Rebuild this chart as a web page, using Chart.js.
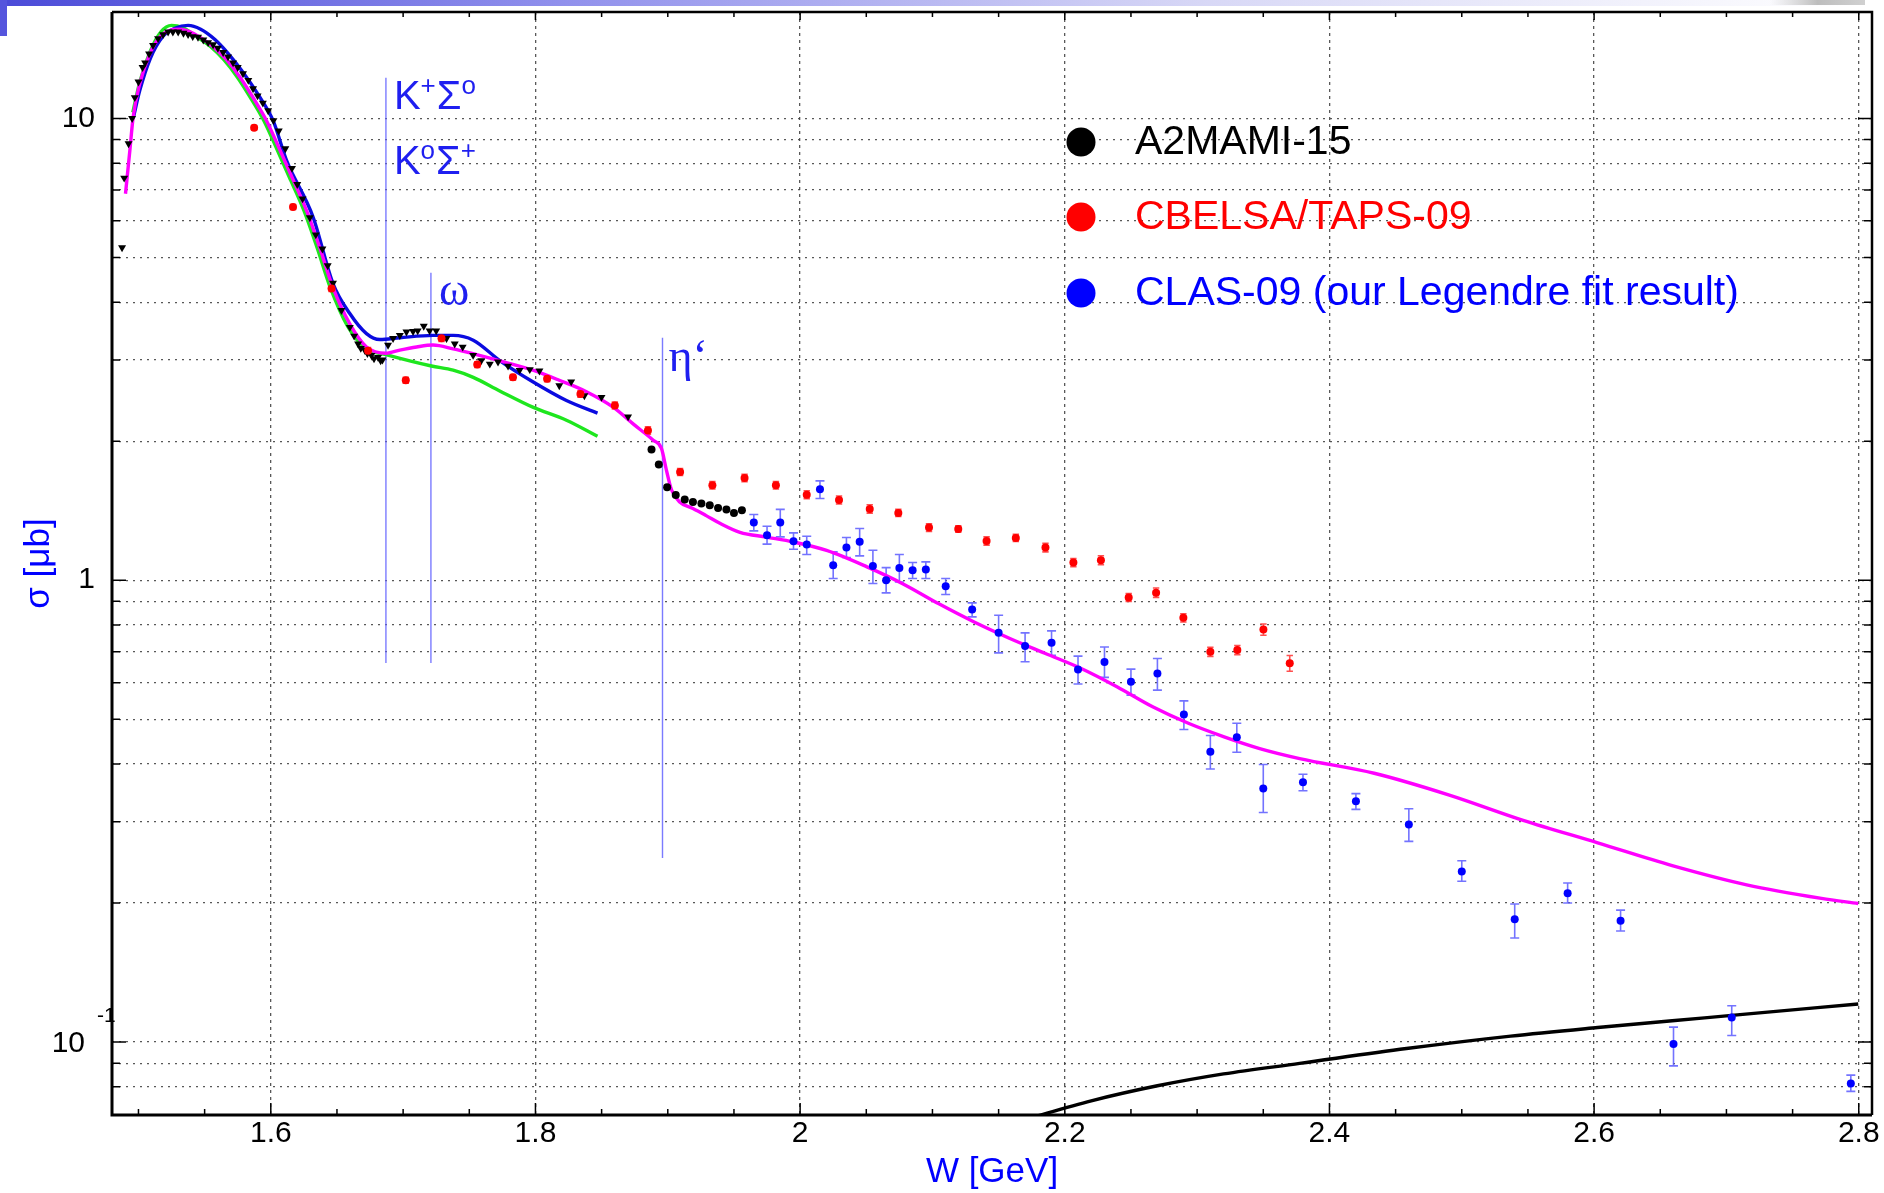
<!DOCTYPE html>
<html><head><meta charset="utf-8">
<script src="https://cdn.jsdelivr.net/npm/chart.js@4.4.0/dist/chart.umd.min.js"></script>
<style>html,body{margin:0;padding:0;background:#fff;overflow:hidden}</style>
</head><body>
<canvas id="c" width="1884" height="1193"></canvas>
<script>
// ---------------- data ----------------
const xTickValues = [1.6, 1.8, 2.0, 2.2, 2.4, 2.6, 2.8];
const yGridValues = [0.08,0.09,0.1,0.2,0.3,0.4,0.5,0.6,0.7,0.8,0.9,1,2,3,4,5,6,7,8,9,10];
const yLabelValues = [10, 1];

// black triangles (earlier A2 data)
const triW = [1.4876,1.4892,1.4925,1.4952,1.4972,1.5000,1.5031,1.5050,1.5080,1.5110,1.5148,1.5186,1.5224,1.5260,1.5300,1.5340,1.5375,1.5410,1.5450,1.5490,1.5526,1.5564,1.5600,1.5640,1.5677,1.5715,1.5750,1.5790,1.5830,1.5866,1.5900,1.5940,1.5980,1.6020,1.6060,1.6110,1.6160,1.6200,1.6240,1.6295,1.6340,1.6390,1.6430,1.6470,1.6534,1.6597,1.6630,1.6660,1.6680,1.6710,1.6730,1.6760,1.6780,1.6810,1.6830,1.6844,1.6886,1.6924,1.6975,1.7025,1.7075,1.7110,1.7156,1.7200,1.7250,1.7328,1.7390,1.7450,1.7529,1.7590,1.7655,1.7717,1.7793,1.7880,1.7957,1.8030,1.8180,1.8270,1.8370,1.8499,1.8700];
const triSigma = [5.25,7.43,8.82,10.0,11.1,12.0,12.9,13.2,13.8,14.4,14.9,15.2,15.4,15.4,15.4,15.3,15.2,15.05,15.0,14.8,14.6,14.45,14.2,13.9,13.6,13.2,12.9,12.5,12.1,11.6,11.2,10.8,10.4,9.9,9.4,8.6,7.8,7.2,6.7,6.1,5.6,5.22,4.8,4.4,3.84,3.53,3.38,3.25,3.18,3.15,3.10,3.07,3.02,3.04,2.99,3.00,3.23,3.34,3.39,3.45,3.46,3.47,3.55,3.47,3.47,3.34,3.25,3.20,3.07,2.99,2.94,2.97,2.91,2.85,2.86,2.84,2.64,2.69,2.51,2.49,2.26];

// A2MAMI-15 (black circles)
const a2W = [1.8877,1.8932,1.8995,1.9060,1.9128,1.9190,1.9254,1.9317,1.9380,1.9443,1.9500,1.9560];
const a2Sigma = [1.92,1.78,1.59,1.53,1.495,1.477,1.466,1.453,1.434,1.422,1.399,1.418];

// CBELSA/TAPS-09 (red)
const cbW = [1.5874,1.6168,1.6459,1.6735,1.7020,1.7290,1.7560,1.7830,1.8088,1.8340,1.8600,1.8850,1.9093,1.9337,1.9580,1.9817,2.0050,2.0294,2.0526,2.0742,2.0974,2.1195,2.1409,2.1630,2.1854,2.2065,2.2273,2.2483,2.2690,2.2896,2.3100,2.3304,2.3501,2.3700];
const cbSigma = [9.55,6.43,4.28,3.14,2.71,3.34,2.93,2.75,2.73,2.53,2.39,2.11,1.716,1.606,1.665,1.606,1.532,1.492,1.427,1.399,1.300,1.291,1.216,1.235,1.177,1.092,1.105,0.918,0.940,0.829,0.700,0.706,0.782,0.661];
const cbErr = [0.10,0.08,0.06,0.05,0.04,0.05,0.04,0.04,0.04,0.04,0.04,0.04,0.03,0.03,0.03,0.03,0.03,0.03,0.03,0.025,0.025,0.02,0.025,0.022,0.025,0.022,0.025,0.018,0.022,0.017,0.016,0.016,0.022,0.026];

// CLAS-09 (blue, with error bars)
const clasW = [1.965,1.975,1.985,1.995,2.005,2.015,2.025,2.035,2.045,2.055,2.065,2.075,2.085,2.095,2.110,2.130,2.150,2.170,2.190,2.210,2.230,2.250,2.270,2.290,2.310,2.330,2.350,2.380,2.420,2.460,2.500,2.540,2.580,2.620,2.660,2.704,2.794];
const clasSigma = [1.333,1.251,1.333,1.214,1.195,1.574,1.078,1.177,1.211,1.074,1.000,1.063,1.051,1.055,0.970,0.864,0.770,0.720,0.732,0.641,0.665,0.603,0.628,0.512,0.425,0.457,0.354,0.365,0.332,0.296,0.234,0.1845,0.210,0.183,0.099,0.113,0.0813];
const clasLow = [1.279,1.197,1.241,1.167,1.137,1.503,1.009,1.120,1.129,0.984,0.939,0.991,1.009,1.009,0.931,0.833,0.696,0.666,0.688,0.596,0.616,0.564,0.578,0.475,0.390,0.424,0.314,0.350,0.319,0.272,0.223,0.168,0.200,0.174,0.0888,0.1033,0.0782];
const clasHigh = [1.388,1.309,1.424,1.266,1.245,1.641,1.152,1.237,1.294,1.161,1.065,1.137,1.092,1.096,1.009,0.893,0.840,0.769,0.777,0.685,0.717,0.642,0.677,0.548,0.461,0.490,0.399,0.380,0.345,0.320,0.247,0.199,0.221,0.193,0.1077,0.1198,0.0848];

// model curves
const magentaW = [1.4902,1.4935,1.4960,1.5010,1.5086,1.5160,1.5237,1.5310,1.5390,1.5464,1.5564,1.5665,1.5766,1.5866,1.5967,1.6070,1.6170,1.6270,1.6370,1.6470,1.6597,1.6723,1.6870,1.6975,1.7102,1.7226,1.7378,1.7555,1.7780,1.7980,1.8180,1.8385,1.8587,1.8738,1.8890,1.8952,1.8990,1.9028,1.9090,1.9190,1.9290,1.9390,1.9545,1.9745,1.9950,2.0200,2.0505,2.0775,2.1045,2.1315,2.1585,2.1854,2.2124,2.2394,2.2664,2.2934,2.3204,2.3473,2.3775,2.4338,2.4900,2.5464,2.6027,2.6590,2.7153,2.7718,2.7996];
const magentaSigma = [6.87,8.53,10.07,11.9,13.8,15.0,15.5,15.6,15.4,15.0,14.3,13.4,12.3,11.1,9.9,8.53,7.35,6.32,5.25,4.30,3.59,3.20,3.10,3.15,3.20,3.23,3.17,3.08,2.96,2.85,2.71,2.56,2.37,2.18,2.01,1.93,1.73,1.57,1.477,1.43,1.38,1.33,1.27,1.24,1.21,1.16,1.069,0.983,0.890,0.812,0.748,0.694,0.644,0.588,0.532,0.490,0.458,0.432,0.411,0.382,0.343,0.302,0.270,0.241,0.219,0.2047,0.1995];

const blueFitW = [1.4960,1.5010,1.5090,1.5180,1.5280,1.5375,1.5470,1.5580,1.5680,1.5780,1.5910,1.6017,1.6119,1.6320,1.6470,1.6597,1.6723,1.6824,1.6975,1.7226,1.7378,1.7530,1.7730,1.7980,1.8234,1.8469];
const blueFitSigma = [10.0,11.5,13.5,15.0,15.7,15.9,15.6,14.8,13.8,12.7,11.2,9.9,8.11,6.11,4.39,3.78,3.42,3.32,3.35,3.39,3.39,3.31,2.99,2.69,2.45,2.30];

const greenW = [1.4957,1.5010,1.5090,1.5170,1.5250,1.5330,1.5444,1.5546,1.5645,1.5746,1.5846,1.5947,1.6050,1.6150,1.6250,1.6350,1.6450,1.6580,1.6723,1.6870,1.7214,1.7378,1.7530,1.7730,1.7980,1.8234,1.8469];
const greenSigma = [10.3,12.0,14.0,15.4,15.9,15.75,15.0,14.3,13.4,12.3,11.1,9.9,8.53,7.35,6.32,5.25,4.30,3.55,3.17,3.08,2.91,2.85,2.75,2.57,2.37,2.22,2.05];

const blackFitW = [2.170,2.220,2.270,2.320,2.3775,2.4582,2.5370,2.6027,2.6590,2.7040,2.7996];
const blackFitSigma = [0.0680,0.0746,0.0804,0.0853,0.0899,0.0968,0.1030,0.1075,0.1112,0.1142,0.1209];

// threshold markers
const thresholdW = [1.687, 1.721, 1.896];
const thresholdTop = [12.25, 4.63, 3.35];
const thresholdBottom = [0.662, 0.662, 0.2504];

// legend
const legendLabels = ['A2MAMI-15', 'CBELSA/TAPS-09', 'CLAS-09 (our Legendre fit result)'];
const legendColors = ['#000000', '#ff0000', '#0000ff'];

// ---------------- helpers ----------------
const SANS = "'Liberation Sans', Arial, sans-serif";
const SERIF = "'Liberation Serif', 'DejaVu Serif', serif";
const pts = (xs, ys) => xs.map((x, i) => ({x, y: ys[i]}));
const LABEL_BLUE = '#1f1ff0';

const decor = {
  id: 'decor',
  beforeDraw(chart) {
    const ctx = chart.ctx;
    ctx.save();
    ctx.fillStyle = '#fff';
    ctx.fillRect(0, 0, chart.width, chart.height);
    const g = ctx.createLinearGradient(0, 0, 1860, 0);
    g.addColorStop(0, '#4b4bd8');
    g.addColorStop(0.3, '#9090ec');
    g.addColorStop(0.65, '#d8d8f6');
    g.addColorStop(1, '#ffffff');
    ctx.fillStyle = g;
    ctx.fillRect(0, 0, 1860, 6);
    ctx.fillStyle = '#5555dd';
    ctx.fillRect(0, 0, 7, 36);
    const g2 = ctx.createLinearGradient(1770, 0, 1865, 0);
    g2.addColorStop(0, 'rgba(200,200,200,0)');
    g2.addColorStop(0.5, '#bdbdbd');
    g2.addColorStop(1, '#d0d0d0');
    ctx.fillStyle = g2;
    ctx.fillRect(1770, 0, 95, 5);
    ctx.restore();
  }
};

const errorBars = {
  id: 'errorBars',
  beforeDatasetsDraw(chart) {
    const {ctx, chartArea: a, scales: {x, y}} = chart;
    ctx.save();
    ctx.beginPath(); ctx.rect(a.left, a.top, a.width, a.height); ctx.clip();
    const draw = (ws, lo, hi, color, cap) => {
      ctx.strokeStyle = color; ctx.lineWidth = 1.6;
      ws.forEach((w, i) => {
        const px = x.getPixelForValue(w);
        const p1 = y.getPixelForValue(lo[i]);
        const p2 = y.getPixelForValue(hi[i]);
        ctx.beginPath();
        ctx.moveTo(px, p1); ctx.lineTo(px, p2);
        ctx.moveTo(px - cap, p1); ctx.lineTo(px + cap, p1);
        ctx.moveTo(px - cap, p2); ctx.lineTo(px + cap, p2);
        ctx.stroke();
      });
    };
    draw(clasW, clasLow, clasHigh, 'rgba(90,90,255,0.85)', 4.5);
    draw(cbW, cbSigma.map((v, i) => v - cbErr[i]), cbSigma.map((v, i) => v + cbErr[i]), 'rgba(255,60,60,0.9)', 3.2);
    ctx.restore();
  }
};

function drawSupText(ctx, parts, x, baseline) {
  let cx = x;
  parts.forEach(([t, sup]) => {
    ctx.font = sup ? `26px ${SANS}` : `40px ${SANS}`;
    ctx.fillText(t, cx, sup ? baseline - 15 : baseline);
    cx += ctx.measureText(t).width + (sup ? 1 : 0);
  });
}

const overlay = {
  id: 'overlay',
  afterDraw(chart) {
    const {ctx, chartArea: a, scales: {x, y}} = chart;
    ctx.save();
    // threshold labels
    ctx.fillStyle = LABEL_BLUE;
    ctx.textAlign = 'left';
    ctx.textBaseline = 'alphabetic';
    const kx = x.getPixelForValue(thresholdW[0]) + 8;
    const kTop = y.getPixelForValue(thresholdTop[0]);
    drawSupText(ctx, [['K', false], ['+', true], ['\u03A3', false], ['o', true]], kx, kTop + 31);
    drawSupText(ctx, [['K', false], ['o', true], ['\u03A3', false], ['+', true]], kx, kTop + 96);
    ctx.font = `46px ${SERIF}`;
    ctx.fillText('\u03C9', x.getPixelForValue(thresholdW[1]) + 8, y.getPixelForValue(thresholdTop[1]) + 32);
    ctx.fillText('\u03B7\u2018', x.getPixelForValue(thresholdW[2]) + 6, y.getPixelForValue(thresholdTop[2]) + 33);

    // legend
    ctx.font = `41px ${SANS}`;
    const legY = [142, 217, 293];
    legendLabels.forEach((lab, i) => {
      ctx.fillStyle = legendColors[i];
      ctx.beginPath(); ctx.arc(1081, legY[i], 14.5, 0, Math.PI * 2); ctx.fill();
      ctx.textBaseline = 'middle';
      ctx.fillText(lab, 1135, legY[i] + 1);
    });

    // 10^-1 label
    ctx.fillStyle = '#000';
    ctx.textBaseline = 'middle';
    ctx.textAlign = 'right';
    ctx.font = `30px ${SANS}`;
    const p01 = y.getPixelForValue(0.1);
    ctx.fillText('10', 85, p01 + 2);
    ctx.textAlign = 'left';
    ctx.font = `21px ${SANS}`;
    ctx.fillText('-1', 97, p01 - 26);

    // axis ticks
    ctx.strokeStyle = '#000';
    ctx.lineWidth = 1.5;
    ctx.beginPath();
    for (let k = 30; k <= 56; k++) {
      const w = k * 0.05;
      const px = x.getPixelForValue(w);
      if (px < a.left || px > a.right) continue;
      const major = (k % 4 === 0);
      const len = major ? 12 : 6;
      ctx.moveTo(px, a.bottom); ctx.lineTo(px, a.bottom - len);
      ctx.moveTo(px, a.top); ctx.lineTo(px, a.top + (major ? 8 : 5));
    }
    yGridValues.forEach(v => {
      const py = y.getPixelForValue(v);
      const major = (v === 0.1 || v === 1 || v === 10);
      const len = major ? 14 : 8;
      ctx.moveTo(a.left, py); ctx.lineTo(a.left + len, py);
      ctx.moveTo(a.right, py); ctx.lineTo(a.right - len, py);
    });
    ctx.stroke();

    // frame
    ctx.lineWidth = 3;
    ctx.strokeStyle = '#000';
    ctx.beginPath();
    ctx.moveTo(a.left, a.top); ctx.lineTo(a.left, a.bottom); ctx.lineTo(a.right, a.bottom);
    ctx.stroke();
    ctx.lineWidth = 2.5;
    ctx.beginPath();
    ctx.moveTo(a.left, a.top); ctx.lineTo(a.right, a.top); ctx.lineTo(a.right, a.bottom);
    ctx.stroke();
    ctx.restore();
  }
};

const curve = (label, xs, ys, color, order) => ({
  label, data: pts(xs, ys), showLine: true, borderColor: color, backgroundColor: color,
  borderWidth: 3.4, pointRadius: 0, cubicInterpolationMode: 'monotone', order
});
const vline = (i) => ({
  label: 'threshold' + i,
  data: [{x: thresholdW[i], y: thresholdTop[i]}, {x: thresholdW[i], y: thresholdBottom[i]}],
  showLine: true, borderColor: 'rgba(100,100,255,0.85)', borderWidth: 1.4, pointRadius: 0, order: 9
});

new Chart(document.getElementById('c'), {
  type: 'scatter',
  data: {
    datasets: [
      {label: 'A2 (triangles)', data: pts(triW, triSigma), pointStyle: 'triangle', rotation: 180,
       pointRadius: 4.6, backgroundColor: '#000', borderColor: '#000', borderWidth: 0, order: 3},
      {label: legendLabels[0], data: pts(a2W, a2Sigma), pointRadius: 4, backgroundColor: '#000', borderWidth: 0, order: 2},
      {label: legendLabels[1], data: pts(cbW, cbSigma), pointRadius: 4, backgroundColor: '#ff0000', borderWidth: 0, order: 1},
      {label: legendLabels[2], data: pts(clasW, clasSigma), pointRadius: 4, backgroundColor: '#0000ff', borderWidth: 0, order: 0},
      curve('magenta fit', magentaW, magentaSigma, '#ff00ff', 5),
      curve('blue fit', blueFitW, blueFitSigma, '#0a0ae0', 6),
      curve('green fit', greenW, greenSigma, '#1ee61e', 7),
      curve('black fit', blackFitW, blackFitSigma, '#000000', 4),
      vline(0), vline(1), vline(2)
    ]
  },
  options: {
    responsive: false,
    animation: false,
    devicePixelRatio: 1,
    layout: {padding: {top: 12, right: 12, left: 0, bottom: 0}},
    plugins: {legend: {display: false}, tooltip: {enabled: false}},
    scales: {
      x: {
        type: 'linear', min: 1.48, max: 2.81,
        afterBuildTicks: s => { s.ticks = xTickValues.map(v => ({value: v})); },
        afterFit: s => { s.height = 78; s.paddingLeft = 0; s.paddingRight = 0; },
        ticks: {autoSkip: false, padding: 1, color: '#000', font: {family: SANS, size: 30},
                callback: v => String(Math.round(v * 10) / 10)},
        grid: {color: 'rgba(70,70,70,0.9)', lineWidth: 1.3, drawTicks: false},
        border: {display: false, dash: [3, 4]},
        title: {display: true, text: 'W [GeV]', color: '#0000ff', font: {family: SANS, size: 35}, padding: {top: 0, bottom: 0}}
      },
      y: {
        type: 'logarithmic', min: 0.0695, max: 17,
        afterBuildTicks: s => { s.ticks = yGridValues.map(v => ({value: v})); },
        afterFit: s => { s.width = 112; s.paddingTop = 0; s.paddingBottom = 0; },
        ticks: {autoSkip: false, padding: 17, color: '#000', font: {family: SANS, size: 30},
                callback: v => (yLabelValues.includes(v) ? String(v) : '')},
        grid: {color: 'rgba(70,70,70,0.9)', lineWidth: 1.3, drawTicks: false},
        border: {display: false, dash: [2, 5]},
        title: {display: true, text: '\u03C3 [\u03BCb]', color: '#0000ff', font: {family: SANS, size: 35}, padding: {top: 18, bottom: 0}}
      }
    }
  },
  plugins: [decor, errorBars, overlay]
});
</script>
</body></html>
